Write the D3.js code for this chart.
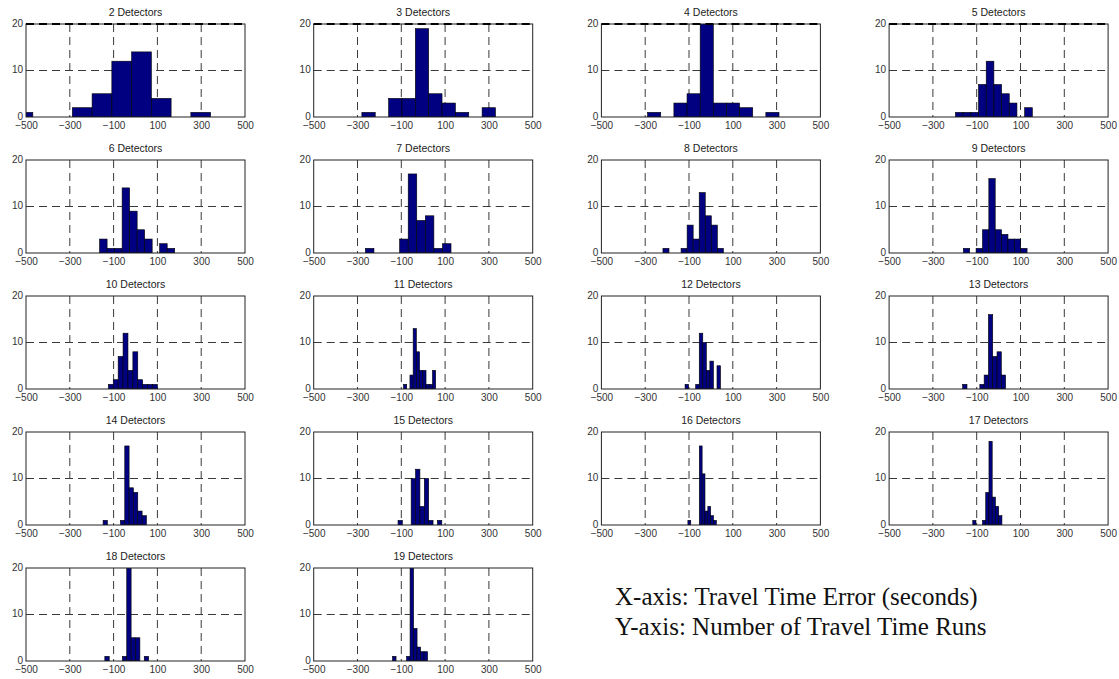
<!DOCTYPE html>
<html>
<head>
<meta charset="utf-8">
<script src="https://cdn.jsdelivr.net/npm/d3@7"></script>
<style>
  html, body { margin: 0; padding: 0; background: #ffffff; }
  svg { display: block; }
</style>
</head>
<body>
<svg id="chart" width="1119" height="679"></svg>
<script>
// ---------------- data ----------------
const panelTitles = ["2 Detectors", "3 Detectors", "4 Detectors", "5 Detectors",
  "6 Detectors", "7 Detectors", "8 Detectors", "9 Detectors",
  "10 Detectors", "11 Detectors", "12 Detectors", "13 Detectors",
  "14 Detectors", "15 Detectors", "16 Detectors", "17 Detectors",
  "18 Detectors", "19 Detectors"];

// lower edge of the first histogram bin (seconds) and bin width (seconds)
const binStarts = [-559, -280, -289, -197, -164, -264, -219, -161, -124, -90, -118, -164, -148, -115, -105, -118, -140, -140];
const binWidths = [90.2, 61, 60, 35.1, 34.3, 39.1, 27.6, 29.1, 22.4, 14.7, 16.2, 19.6, 19.8, 20, 13, 14.8, 20, 16];

// number of travel time runs per bin (10 bins each)
const binCounts = [
  [1, 0, 0, 2, 5, 12, 14, 4, 0, 1],
  [1, 0, 4, 4, 19, 5, 3, 1, 0, 2],
  [1, 0, 3, 5, 21, 3, 3, 2, 0, 1],
  [1, 1, 1, 7, 12, 7, 5, 3, 0, 2],
  [3, 1, 1, 14, 9, 5, 3, 0, 2, 1],
  [1, 0, 0, 0, 3, 17, 7, 8, 1, 2],
  [1, 0, 0, 1, 6, 3, 13, 8, 6, 1],
  [1, 0, 1, 5, 16, 5, 4, 3, 3, 1],
  [1, 2, 7, 12, 4, 8, 2, 1, 1, 1],
  [1, 0, 3, 13, 8, 4, 4, 1, 1, 4],
  [1, 0, 0, 1, 12, 10, 4, 6, 0, 5],
  [1, 0, 0, 0, 1, 3, 16, 7, 8, 3],
  [1, 0, 0, 0, 1, 17, 8, 7, 3, 2],
  [1, 0, 0, 10, 12, 4, 10, 1, 0, 1],
  [1, 0, 0, 0, 17, 11, 3, 4, 2, 1],
  [1, 0, 0, 1, 7, 18, 6, 4, 2, 0],
  [1, 0, 0, 0, 1, 26, 5, 5, 0, 1],
  [1, 0, 0, 0, 1, 23, 7, 3, 2, 2]
];

const xDomain = [-500, 500];
const yDomain = [0, 20];
const xTickValues = [-500, -300, -100, 100, 300, 500];
const xGridValues = [-300, -100, 100, 300];
const yTickValues = [0, 10, 20];
const yGridValues = [10];
const noteLines = ["X-axis: Travel Time Error (seconds)", "Y-axis: Number of Travel Time Runs"];

// ---------------- layout ----------------
const svg = d3.select("#chart");
const nCols = 4;
const colLeft0 = 26, colStep = 287.7, plotW = 219;
const rowTop0 = 24, rowStep = 136, plotH = 93;

const defs = svg.append("defs");

panelTitles.forEach((title, i) => {
  const c = i % nCols, r = Math.floor(i / nCols);
  const left = colLeft0 + c * colStep;
  const top = rowTop0 + r * rowStep;

  const x = d3.scaleLinear().domain(xDomain).range([0, plotW]);
  const y = d3.scaleLinear().domain(yDomain).range([plotH, 0]);

  const g = svg.append("g").attr("transform", `translate(${left},${top})`);

  defs.append("clipPath").attr("id", "clip" + i)
    .append("rect").attr("x", 0).attr("y", 0).attr("width", plotW).attr("height", plotH);

  // grid
  g.append("g").selectAll("line").data(xGridValues).join("line")
    .attr("x1", d => x(d)).attr("x2", d => x(d))
    .attr("y1", 0).attr("y2", plotH)
    .attr("stroke", "#3a3a3a").attr("stroke-width", 1).attr("stroke-dasharray", "8,5");
  g.append("g").selectAll("line").data(yGridValues).join("line")
    .attr("x1", 0).attr("x2", plotW)
    .attr("y1", d => y(d)).attr("y2", d => y(d))
    .attr("stroke", "#3a3a3a").attr("stroke-width", 1).attr("stroke-dasharray", "8,5");

  // bars
  const bins = binCounts[i].map((v, k) => ({
    x0: binStarts[i] + k * binWidths[i],
    x1: binStarts[i] + (k + 1) * binWidths[i],
    v: v
  })).filter(d => d.v > 0);

  g.append("g").attr("clip-path", `url(#clip${i})`)
    .selectAll("rect").data(bins).join("rect")
    .attr("x", d => x(d.x0))
    .attr("width", d => x(d.x1) - x(d.x0))
    .attr("y", d => y(d.v))
    .attr("height", d => y(0) - y(d.v))
    .attr("fill", "#000080")
    .attr("stroke", "#000000")
    .attr("stroke-width", 0.6);

  // frame
  g.append("rect").attr("x", 0).attr("y", 0).attr("width", plotW).attr("height", plotH)
    .attr("fill", "none").attr("stroke", "#222").attr("stroke-width", 1);

  if (r === 0) {
    g.append("line").attr("x1", 0).attr("x2", plotW).attr("y1", y(20)).attr("y2", y(20))
      .attr("stroke", "#000").attr("stroke-width", 2).attr("stroke-dasharray", "8,5");
  }

  // axes
  const xAxis = d3.axisBottom(x).tickValues(xTickValues).tickSize(0).tickPadding(5).tickFormat(d3.format("d"));
  const yAxis = d3.axisLeft(y).tickValues(yTickValues).tickSize(0).tickPadding(3).tickFormat(d3.format("d"));

  const gx = g.append("g").attr("transform", `translate(0,${plotH})`).call(xAxis);
  const gy = g.append("g").call(yAxis);
  [gx, gy].forEach(a => {
    a.select(".domain").remove();
    a.selectAll("text").attr("font-family", "Liberation Sans, Arial, sans-serif")
      .attr("font-size", 10).attr("fill", "#333");
  });
  gy.selectAll("text").attr("dy", "0.2em");

  // title
  g.append("text").attr("x", plotW / 2).attr("y", -8)
    .attr("text-anchor", "middle")
    .attr("font-family", "Liberation Sans, Arial, sans-serif")
    .attr("font-size", 10.5).attr("fill", "#222")
    .text(title);
});

// note text
svg.append("g").selectAll("text").data(noteLines).join("text")
  .attr("x", 615)
  .attr("y", (d, k) => 605 + k * 30)
  .attr("font-family", "Liberation Serif, Times New Roman, serif")
  .attr("font-size", 25)
  .attr("fill", "#111")
  .text(d => d);
</script>
</body>
</html>
